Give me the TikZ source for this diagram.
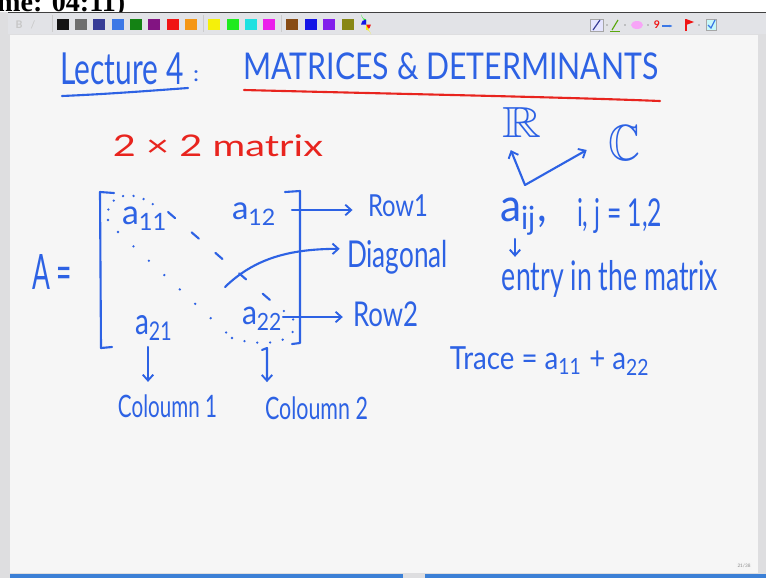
\documentclass[tikz,border=0pt]{standalone}
\usepackage{amssymb}
\usepackage{graphicx}
\usepackage{fontspec}
\setmainfont{Lato}
\newfontfamily\capfont{Liberation Serif}
\usetikzlibrary{arrows.meta}
\usepackage{xcolor}
\definecolor{inkblue}{RGB}{45, 98, 228}
\definecolor{inkred}{RGB}{232, 36, 30}
\definecolor{pagegray}{RGB}{246, 246, 246}
\definecolor{edgegray}{RGB}{222, 222, 224}
\definecolor{toolgray}{RGB}{226, 227, 231}
\definecolor{barblue}{RGB}{60, 128, 214}
\definecolor{tbk}{RGB}{20, 20, 20}
\definecolor{tbg}{RGB}{110, 110, 110}
\definecolor{tbn}{RGB}{55, 60, 150}
\definecolor{tbb}{RGB}{60, 120, 230}
\definecolor{tbgr}{RGB}{20, 130, 20}
\definecolor{tbp}{RGB}{130, 20, 130}
\definecolor{tbr}{RGB}{240, 20, 20}
\definecolor{tbo}{RGB}{245, 150, 20}
\definecolor{tby}{RGB}{245, 240, 10}
\definecolor{tbl}{RGB}{30, 235, 30}
\definecolor{tbc}{RGB}{30, 225, 225}
\definecolor{tbm}{RGB}{235, 30, 235}
\definecolor{tbbr}{RGB}{135, 75, 20}
\definecolor{tbbl}{RGB}{20, 20, 230}
\definecolor{tbv}{RGB}{130, 30, 235}
\definecolor{tbol}{RGB}{135, 135, 20}
\newlength\pxu
\setlength\pxu{0.03cm}
\newcommand\hw[3]{\resizebox*{#1\pxu}{#2\pxu}{#3}}
\tikzset{
  ink/.style={inkblue, line width=1.8pt, line cap=round, line join=round},
  inkarrow/.style={ink, -{Straight Barb[length=5pt, width=9pt, line width=1.6pt]}},
  dotline/.style={inkblue, line width=2.2pt, line cap=round, dash pattern=on 0pt off 18pt},
  hand/.style={inner sep=0pt, text=inkblue},
}

\begin{document}
\begin{tikzpicture}[x=0.03cm, y=-0.03cm]
    \useasboundingbox (0,0) rectangle (766,578);
    \clip (0,0) rectangle (766,578);
    % screen and page
    \fill[white] (0,0) rectangle (766,578);
    \fill[edgegray] (0,12) rectangle (766,578);
    \fill[pagegray] (10,35) rectangle (758,573);
    \node[anchor=base west, inner sep=0pt, font=\capfont\bfseries\fontsize{24}{26}\selectfont] (stamp) at (-3,11) {me: 04:11)};
    % toolbar
    \fill[toolgray] (8,13) rectangle (766,34);
    \draw[black!75, line width=0.8pt] (8,12.5) -- (766,12.5);
    \node[inner sep=0pt, text=black!22, font=\bfseries\fontsize{9}{9}\selectfont] (bold) at (19,24.5) {B};
    \node[inner sep=0pt, text=black!22, font=\fontsize{9}{9}\selectfont] (ital) at (33,24.5) {/};
    \foreach \sx in {52,203,281}
      \draw[black!20, line width=0.5pt] (\sx,15) -- (\sx,32);
    \foreach \sx/\sc in {57/tbk,75/tbg,93/tbn,112/tbb,130/tbgr,148/tbp,167/tbr,185/tbo,
                         208/tby,227/tbl,245/tbc,263/tbm,286/tbbr,305/tbbl,323/tbv,342/tbol}
      \fill[\sc] (\sx,19) rectangle ++(12,11);
    \fill[tbr] (366,24.5) -- ++(5,0) arc (0:90:5) -- cycle;
    \fill[tbl] (366,24.5) -- ++(0,-5) arc (90:180:5) -- cycle;
    \fill[tbbl] (366,24.5) -- ++(-5,0) arc (180:270:5) -- cycle;
    \fill[tby] (366,24.5) -- ++(0,5) arc (270:360:5) -- cycle;
    % tool icons
    \draw[black!35, fill=white!90!blue, line width=0.5pt] (590,19) rectangle (603,31);
    \draw[tbn, line width=1pt] (593,30) -- (600,20);
    \fill[black!40] (607,25) circle (0.9);
    \draw[tbgr!70!yellow, line width=1pt] (612,30) -- (618,20);
    \draw[tbgr!70!yellow, line width=0.8pt] (610,31) -- (620,31);
    \fill[black!40] (625,25) circle (0.9);
    \fill[tbm!40] (637,25) ellipse (6 and 4);
    \fill[black!40] (648,25) circle (0.9);
    \node[inner sep=0pt, text=tbr, font=\bfseries\fontsize{9}{9}\selectfont] (nine) at (657,25) {9};
    \draw[tbb, line width=1pt, -{Latex[length=3pt]}] (662,26) -- (673,26);
    \draw[tbr, line width=1pt] (686,31) -- (686,19);
    \fill[tbr] (686,19) -- (694,22) -- (686,25) -- cycle;
    \fill[black!40] (699,25) circle (0.9);
    \draw[black!35, fill=tbc!25, line width=0.5pt] (706,19) rectangle (716,30);
    \draw[tbb, line width=1pt] (708,25) -- (711,28) -- (715,20);
    % bottom bar and page number
    \fill[barblue] (10,574) rectangle (403,578);
    \fill[barblue] (425,574) rectangle (766,578);
    \node[inner sep=1.5pt, fill=white!92!gray, text=black!45, font=\fontsize{4}{5}\selectfont] (pgno) at (744,566) {21/38};

    % heading
    \node[hand] (lect) at (122,69) {\hw{123}{32}{Lecture 4}};
    \node[hand] (colon) at (196,76) {\hw{6}{11}{:}};
    \node[hand] (title) at (451,66) {\hw{415}{27}{MATRICES \& DETERMINANTS}};
    \draw[ink] (62,96) .. controls (110,94) and (160,90) .. (188,88);
    \draw[inkred, line width=1.8pt, line cap=round] (244,90) .. controls (400,94) and (560,97) .. (660,101);
    \node[hand, text=inkred] (size) at (218,146) {\hw{210}{22}{2 × 2 matrix}};

    % the matrix
    \node[hand] (A) at (52,272) {\hw{40}{35}{A =}};
    \draw[ink] (114,193) -- (100,192) -- (101,348) -- (112,347);
    \draw[ink] (285,192) -- (300,191) -- (300,343) -- (292,344);
    \node[hand] (a11) at (145,218.5) {\hw{46}{23}{a\textsubscript{11}}};
    \node[hand] (a12) at (254.5,214) {\hw{45}{22}{a\textsubscript{12}}};
    \node[hand] (a21) at (154,327.5) {\hw{38}{25}{a\textsubscript{21}}};
    \node[hand] (a22) at (262.5,318.5) {\hw{41}{23}{a\textsubscript{22}}};
    \draw[ink, dash pattern=on 8pt off 18.7pt] (168,212) -- (270,300);
    \draw[dotline] (118,232) -- (232,338);
    \draw[dotline, dash pattern=on 0pt off 9pt] (108,220) .. controls (104,198) and (128,184) .. (158,208);
    \draw[dotline, dash pattern=on 0pt off 11pt] (232,338) .. controls (265,348) and (296,342) .. (294,325) .. controls (293,316) .. (282,310);

    % rows and diagonal
    \node[hand] (row1) at (398,206) {\hw{60}{22}{Row1}};
    \node[hand] (diag) at (397.5,257) {\hw{101}{34}{Diagonal}};
    \node[hand] (row2) at (385.5,314.5) {\hw{65}{25}{Row2}};
    \coordinate (r1s) at (292,210);
    \coordinate (r2s) at (283,317);
    \coordinate (dgs) at (225,287);
    \draw[inkarrow, shorten >=13pt] (r1s) -- (r1s -| row1.west);
    \draw[inkarrow] (dgs) .. controls (255,258) and (290,249) .. ([xshift=-6pt, yshift=7pt]diag.west);
    \draw[inkarrow, shorten >=8.5pt] (r2s) -- (r2s -| row2.west);

    % columns
    \node[hand] (col1) at (167.5,406.5) {\hw{99}{23}{Coloumn 1}};
    \node[hand] (col2) at (316.5,408.5) {\hw{103}{23}{Coloumn 2}};
    \coordinate (c1s) at (148,347);
    \coordinate (c2s) at (267,348);
    \draw[inkarrow, shorten >=11pt] (c1s) -- (c1s |- col1.north);
    \draw[inkarrow, shorten >=12.5pt] (262,350) -- (c2s) -- (c2s |- col2.north);

    % entries and trace
    \node[hand] (reals) at (522.5,122) {\hw{39}{30}{$\mathbb{R}$}};
    \node[hand] (cplx) at (624,142.5) {\hw{32}{35}{$\mathbb{C}$}};
    \coordinate (fork) at (525,185);
    \draw[inkarrow] (fork) -- ([xshift=-10pt, yshift=-11pt]reals.south);
    \draw[inkarrow] (fork) -- ([xshift=-18pt, yshift=-6.4pt]cplx.west);
    \node[hand] (aij) at (523.5,216.5) {\hw{47}{37}{a\textsubscript{ij},}};
    \node[hand] (range) at (619.5,215.5) {\hw{85}{35}{i, j = 1,2}};
    \node[hand] (entry) at (610,278.5) {\hw{216}{37}{entry in the matrix}};
    \coordinate (es) at (515,239);
    \draw[inkarrow, shorten >=2.5pt] (es) -- (es |- entry.north);
    \node[hand] (trace) at (550,361) {\hw{200}{28}{Trace = a\textsubscript{11} + a\textsubscript{22}}};
\end{tikzpicture}
\end{document}
